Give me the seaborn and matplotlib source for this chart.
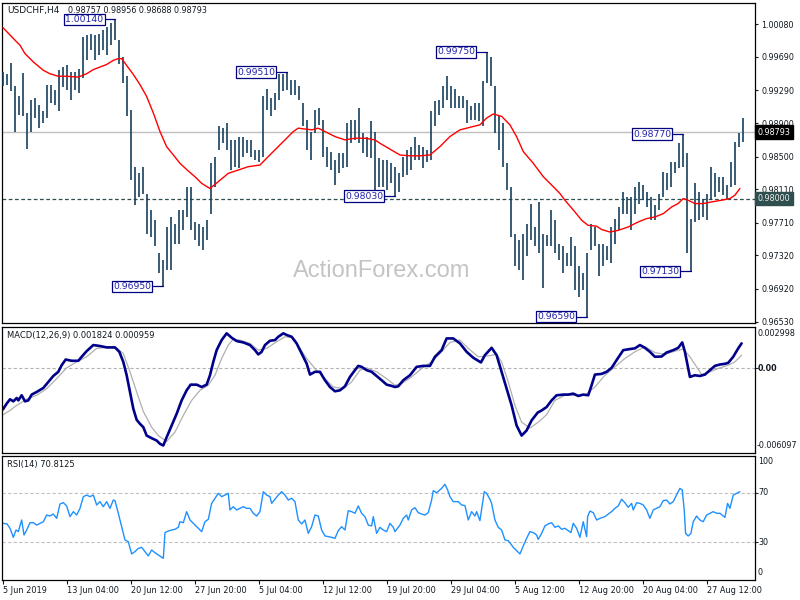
import matplotlib
matplotlib.use("Agg")
import matplotlib.pyplot as plt
import matplotlib.transforms as mtransforms
import numpy as np
import seaborn as sns

sns.set_theme(style="white")
plt.rcParams["font.family"] = ["DejaVu Sans"]

# ---- price bars (one bar drawn per 2 H4 bars) ----
bar_high = [
    0.9951, 0.9949, 0.9962, 0.9934, 0.9922, 0.9950, 0.9902, 0.9918, 0.9920, 0.9912,
    0.9904, 0.9936, 0.9936, 0.9930, 0.9953, 0.9957, 0.9959, 0.9951, 0.9951, 0.9955,
    0.9993, 0.9995, 0.9997, 0.9995, 0.9997, 1.0001, 1.0005, 1.0009, 1.0014, 0.9989,
    0.9969, 0.9946, 0.9906, 0.9838, 0.9830, 0.9838, 0.9806, 0.9786, 0.9774, 0.9735,
    0.9727, 0.9766, 0.9778, 0.9770, 0.9786, 0.9786, 0.9814, 0.9814, 0.9772, 0.9770,
    0.9766, 0.9774, 0.9842, 0.9850, 0.9886, 0.9884, 0.9890, 0.9870, 0.9870, 0.9874,
    0.9874, 0.9870, 0.9870, 0.9858, 0.9858, 0.9922, 0.9931, 0.9920, 0.9926, 0.9949,
    0.9949, 0.9951, 0.9942, 0.9942, 0.9934, 0.9914, 0.9894, 0.9880, 0.9906, 0.9908,
    0.9894, 0.9862, 0.9856, 0.9846, 0.9854, 0.9854, 0.9890, 0.9894, 0.9894, 0.9908,
    0.9878, 0.9874, 0.9892, 0.9880, 0.9848, 0.9846, 0.9846, 0.9842, 0.9838, 0.9830,
    0.9850, 0.9858, 0.9862, 0.9874, 0.9864, 0.9862, 0.9858, 0.9904, 0.9916, 0.9918,
    0.9934, 0.9946, 0.9934, 0.9931, 0.9922, 0.9922, 0.9918, 0.9910, 0.9914, 0.9914,
    0.9940, 0.9975, 0.9969, 0.9934, 0.9898, 0.9890, 0.9842, 0.9814, 0.9758, 0.9750,
    0.9758, 0.9770, 0.9794, 0.9766, 0.9796, 0.9758, 0.9756, 0.9786, 0.9774, 0.9746,
    0.9743, 0.9735, 0.9754, 0.9743, 0.9719, 0.9711, 0.9735, 0.9770, 0.9766, 0.9746,
    0.9746, 0.9743, 0.9766, 0.9776, 0.9790, 0.9808, 0.9802, 0.9802, 0.9814, 0.9820,
    0.9816, 0.9808, 0.9802, 0.9792, 0.9806, 0.9832, 0.9830, 0.9844, 0.9844, 0.9866,
    0.9877, 0.9854, 0.9776, 0.9818, 0.9808, 0.9800, 0.9806, 0.9838, 0.9830, 0.9826,
    0.9826, 0.9816, 0.9844, 0.9868, 0.9878, 0.9896,
]
bar_low = [
    0.9934, 0.9936, 0.9928, 0.9879, 0.9900, 0.9898, 0.9859, 0.9880, 0.9896, 0.9884,
    0.9890, 0.9896, 0.9914, 0.9912, 0.9904, 0.9933, 0.9930, 0.9918, 0.9930, 0.9926,
    0.9944, 0.9965, 0.9977, 0.9965, 0.9971, 0.9977, 0.9971, 0.9983, 0.9989, 0.9961,
    0.9938, 0.9898, 0.9822, 0.9792, 0.9802, 0.9806, 0.9758, 0.9754, 0.9743, 0.9711,
    0.9695, 0.9715, 0.9715, 0.9746, 0.9746, 0.9762, 0.9778, 0.9762, 0.9750, 0.9743,
    0.9739, 0.9750, 0.9782, 0.9814, 0.9858, 0.9866, 0.9858, 0.9834, 0.9838, 0.9836,
    0.9850, 0.9854, 0.9850, 0.9846, 0.9844, 0.9850, 0.9906, 0.9898, 0.9906, 0.9918,
    0.9928, 0.9930, 0.9924, 0.9924, 0.9918, 0.9886, 0.9858, 0.9846, 0.9878, 0.9888,
    0.9850, 0.9838, 0.9834, 0.9816, 0.9830, 0.9836, 0.9838, 0.9866, 0.9870, 0.9866,
    0.9854, 0.9850, 0.9848, 0.9810, 0.9814, 0.9814, 0.9810, 0.9818, 0.9803, 0.9808,
    0.9826, 0.9828, 0.9834, 0.9846, 0.9846, 0.9836, 0.9844, 0.9846, 0.9886, 0.9900,
    0.9908, 0.9918, 0.9908, 0.9908, 0.9908, 0.9908, 0.9890, 0.9894, 0.9894, 0.9892,
    0.9886, 0.9938, 0.9934, 0.9878, 0.9858, 0.9838, 0.9810, 0.9754, 0.9719, 0.9715,
    0.9703, 0.9731, 0.9750, 0.9743, 0.9735, 0.9693, 0.9743, 0.9743, 0.9735, 0.9727,
    0.9711, 0.9719, 0.9719, 0.9691, 0.9683, 0.9691, 0.9659, 0.9739, 0.9743, 0.9707,
    0.9719, 0.9727, 0.9723, 0.9746, 0.9762, 0.9782, 0.9782, 0.9762, 0.9782, 0.9794,
    0.9798, 0.9790, 0.9774, 0.9774, 0.9786, 0.9802, 0.9810, 0.9814, 0.9830, 0.9836,
    0.9838, 0.9735, 0.9713, 0.9772, 0.9774, 0.9778, 0.9774, 0.9798, 0.9802, 0.9808,
    0.9804, 0.9800, 0.9814, 0.9816, 0.9862, 0.9868,
]

# moving average (red)
ma_x = [0, 2.6, 4.25, 5.5, 7.6, 10.1, 11.75, 13.8, 15.9, 18.8, 20.9, 22.6, 24.25,
        25.9, 27.6, 28.8, 29.7, 30.9, 32.6, 34.25, 35.9, 37.6, 39.25, 40.9, 42.6,
        44.25, 46.3, 48, 49.7, 51.75, 53.8, 56.3, 58.8, 61.3, 64.25, 66.3, 68.4,
        70.5, 72.6, 73.8, 75.5, 77.2, 78.8, 80.5, 83, 85.5, 88, 90.5, 93, 94.25,
        96.75, 99.25, 101.75, 104.25, 106.75, 109.25, 111.75, 114.25, 116.75,
        119.25, 120.9, 122.6, 124.7, 126.75, 128.4, 130.1, 132.6, 135.1, 137.2,
        139.25, 140.5, 143, 144.7, 146.3, 148.4, 149.7, 151.75, 153.8, 156.3,
        158.8, 160.9, 163, 165.1, 167.2, 168.8, 170.1, 171.3, 173, 175.1, 177.2,
        179.7, 181.75, 183, 184.25]
ma_y = [1.0004, 0.9991, 0.9983, 0.9973, 0.9963, 0.9953, 0.9949, 0.9946, 0.9946,
        0.9945, 0.9949, 0.9954, 0.9957, 0.9960, 0.9965, 0.9967, 0.9967, 0.9959,
        0.9948, 0.9936, 0.9922, 0.9902, 0.9880, 0.9862, 0.9852, 0.9842, 0.9833,
        0.9826, 0.9818, 0.9812, 0.9820, 0.9830, 0.9834, 0.9838, 0.9840, 0.9850,
        0.9860, 0.9870, 0.9880, 0.9884, 0.9883, 0.9882, 0.9884, 0.9880, 0.9874,
        0.9870, 0.9872, 0.9872, 0.9870, 0.9866, 0.9859, 0.9852, 0.9851, 0.9851,
        0.9852, 0.9862, 0.9874, 0.9882, 0.9885, 0.9888, 0.9896, 0.9901, 0.9898,
        0.9888, 0.9874, 0.9856, 0.9842, 0.9826, 0.9816, 0.9806, 0.9798, 0.9784,
        0.9774, 0.9768, 0.9767, 0.9763, 0.9760, 0.9762, 0.9766, 0.9772, 0.9776,
        0.9778, 0.9782, 0.9790, 0.9794, 0.9800, 0.9798, 0.9794, 0.9794, 0.9796,
        0.9798, 0.9800, 0.9804, 0.9812]

# MACD main line and signal line
macd_x = [0, 0.9, 1.75, 2.58, 3.42, 3.83, 4.67, 5.5, 6.33, 7.17,
          8.42, 10.08, 11.33, 12.58, 13.83, 14.67, 15.67, 17.17, 18.83, 19.67,
          20.92, 22.58, 24.25, 25.92, 28.0, 29.08, 30.08, 30.92, 31.75, 32.58,
          33.42, 34.25, 35.08, 35.92, 37.17, 38.42, 39.25, 40.08, 40.92, 42.17,
          43.42, 44.67, 45.92, 46.92, 48.42, 49.67, 50.92, 51.75, 52.58, 53.42,
          54.67, 55.92, 57.17, 58.42, 60.08, 61.75, 63.0, 63.83, 64.67, 65.5,
          66.75, 68.0, 68.83, 70.08, 70.92, 72.17, 73.42, 74.67, 75.92, 76.75,
          78.0, 79.25, 80.5, 81.75, 83.0, 84.25, 85.5, 86.75, 88.0, 88.83,
          89.67, 90.92, 92.17, 93.42, 94.67, 95.92, 97.17, 98.0, 98.83, 100.08,
          101.75, 103.42, 105.08, 106.75, 108.0, 109.67, 110.92, 112.58, 114.25, 115.92,
          117.58, 119.5, 120.5, 122.17, 123.42, 124.67, 125.92, 127.17, 128.42, 129.67,
          130.92, 132.17, 133.67, 134.67, 135.92, 137.17, 138.42, 140.08, 141.33, 142.58,
          143.83, 145.08, 146.33, 147.17, 148.0, 149.67, 150.92, 152.17, 153.42, 155.08,
          156.75, 158.0, 159.25, 160.5, 161.75, 163.0, 164.67, 165.92, 167.58, 168.83,
          169.83, 170.5, 171.75, 173.0, 174.25, 175.5, 176.75, 178.0, 179.25, 180.5,
          181.33, 182.58, 183.83, 184.67]
macd_y = [-0.00297, -0.00256, -0.00224, -0.00239, -0.00215, -0.00232, -0.00195, -0.00239, -0.00232, -0.00190,
          -0.00171, -0.00142, -0.00098, -0.00055, -0.00025, 0.00023, 0.00064, 0.00055, 0.00055, 0.00084,
          0.00125, 0.00169, 0.00162, 0.00152, 0.00152, 0.00120, 0.00047, -0.00050, -0.00171, -0.00292,
          -0.00373, -0.00402, -0.00426, -0.00487, -0.00506, -0.00523, -0.00547, -0.00559, -0.00499, -0.00414,
          -0.00329, -0.00232, -0.00159, -0.00118, -0.00118, -0.00135, -0.00118, -0.00050, 0.00047, 0.00132,
          0.00205, 0.00254, 0.00222, 0.00198, 0.00188, 0.00169, 0.00132, 0.00101, 0.00120, 0.00169,
          0.00200, 0.00205, 0.00229, 0.00254, 0.00242, 0.00229, 0.00181, 0.00108, 0.00035, -0.00045,
          -0.00025, -0.00025, -0.00086, -0.00135, -0.00166, -0.00159, -0.00130, -0.00062, -0.00013, 0.00018,
          0.00011, -0.00013, -0.00025, -0.00055, -0.00086, -0.00118, -0.00127, -0.00135, -0.00130, -0.00086,
          -0.00050, 0.00011, 0.00018, 0.00018, 0.00084, 0.00132, 0.00217, 0.00217, 0.00181, 0.00120,
          0.00077, 0.00043, 0.00096, 0.00149, 0.00096, -0.00025, -0.00147, -0.00268, -0.00414, -0.00487,
          -0.00450, -0.00377, -0.00321, -0.00305, -0.00280, -0.00232, -0.00195, -0.00190, -0.00190, -0.00183,
          -0.00200, -0.00190, -0.00195, -0.00122, -0.00045, -0.00040, -0.00025, 0.00004, 0.00060, 0.00132,
          0.00140, 0.00145, 0.00169, 0.00149, 0.00120, 0.00084, 0.00086, 0.00115, 0.00132, 0.00149,
          0.00188, 0.00120, -0.00062, -0.00050, -0.00055, -0.00045, -0.00013, 0.00018, 0.00028, 0.00033,
          0.00040, 0.00084, 0.00145, 0.00181]
signal_x = [0, 1.75, 3.42, 5.92, 8.42, 10.92, 13.42, 15.92, 18.42, 20.92,
            23.42, 25.92, 28.42, 30.08, 31.75, 33.42, 35.08, 37.17, 38.83, 40.92,
            43.0, 45.08, 47.17, 49.25, 51.33, 53.0, 54.67, 56.33, 57.58, 59.25,
            61.75, 63.83, 65.92, 68.42, 70.5, 72.58, 74.25, 75.92, 78.0, 80.08,
            82.58, 85.08, 87.17, 89.25, 90.92, 93.42, 95.92, 98.0, 99.67, 102.17,
            104.67, 107.17, 109.67, 111.75, 114.25, 116.33, 118.83, 121.33, 123.42, 124.67,
            126.33, 128.0, 129.67, 131.75, 133.83, 135.92, 138.0, 140.5, 143.0, 145.5,
            148.0, 150.5, 153.0, 155.5, 158.0, 160.5, 163.0, 165.5, 168.0, 170.08,
            171.75, 173.42, 174.67, 176.75, 178.83, 181.33, 183.0, 184.67]
signal_y = [-0.00336, -0.00305, -0.00268, -0.00224, -0.00195, -0.00147, -0.00074, 0.00004, 0.00047, 0.00084,
            0.00145, 0.00152, 0.00145, 0.00108, -0.00025, -0.00171, -0.00312, -0.00426, -0.00487, -0.00530,
            -0.00462, -0.00341, -0.00232, -0.00159, -0.00122, -0.00050, 0.00072, 0.00169, 0.00212, 0.00205,
            0.00181, 0.00132, 0.00145, 0.00193, 0.00229, 0.00222, 0.00145, 0.00072, -0.00001, -0.00062,
            -0.00135, -0.00147, -0.00098, -0.00013, 0.00004, -0.00025, -0.00074, -0.00122, -0.00110, -0.00062,
            -0.00001, 0.00047, 0.00120, 0.00188, 0.00205, 0.00145, 0.00084, 0.00091, 0.00101, 0.00047,
            -0.00098, -0.00268, -0.00390, -0.00433, -0.00390, -0.00336, -0.00232, -0.00195, -0.00195, -0.00195,
            -0.00135, -0.00050, 0.00011, 0.00072, 0.00120, 0.00157, 0.00115, 0.00101, 0.00125, 0.00140,
            0.00084, 0.00011, -0.00045, -0.00025, -0.00001, 0.00023, 0.00047, 0.00096]

# RSI(14)
rsi_x = [0.0, 1.0, 1.75, 2.58, 3.25, 3.83, 4.67, 5.25, 5.92, 6.75,
         7.58, 8.42, 9.25, 10.08, 10.92, 11.75, 12.58, 13.42, 14.25, 15.08,
         15.92, 16.75, 17.58, 18.42, 19.25, 20.08, 20.92, 21.75, 22.58, 23.42,
         24.25, 25.08, 25.92, 26.75, 27.58, 28.0, 28.83, 29.67, 30.5, 31.33,
         32.17, 33.0, 33.83, 34.67, 35.5, 36.33, 37.17, 38.0, 38.83, 40.08,
         40.5, 41.33, 42.17, 43.0, 43.83, 44.25, 45.08, 45.92, 46.75, 47.58,
         48.42, 49.67, 50.5, 51.33, 52.17, 53.0, 53.83, 54.67, 55.5, 56.33,
         56.75, 57.58, 58.42, 59.25, 60.08, 60.92, 61.75, 62.58, 63.42, 64.25,
         65.08, 65.92, 66.75, 67.17, 68.0, 68.83, 69.67, 70.5, 71.33, 72.17,
         73.0, 73.83, 74.67, 75.5, 76.33, 77.17, 78.0, 78.83, 79.67, 80.5,
         81.33, 82.17, 83.0, 83.83, 84.67, 85.5, 86.33, 87.17, 88.0, 88.83,
         89.67, 90.5, 91.33, 92.17, 92.58, 93.42, 94.25, 95.08, 95.92, 96.75,
         97.58,
         98.0, 99.25, 100.08, 100.92, 101.33, 102.17, 103.0, 103.83, 104.67, 105.5,
         106.33, 107.17, 107.58, 108.42, 109.67, 110.5, 111.17, 111.75, 112.58, 113.83,
         114.67, 115.5, 116.33, 117.17, 118.0, 118.42, 119.25, 119.83, 120.33, 120.92,
         121.75, 122.17, 123.0, 123.83, 124.67, 125.5, 126.33, 127.17, 127.58, 128.42,
         129.25, 130.08, 130.92, 131.75, 132.58, 133.42, 133.83, 134.67, 135.5, 136.33,
         137.17, 138.0, 138.83, 139.67, 140.5, 141.33, 142.0, 142.58, 143.42, 144.25,
         145.08, 145.92, 146.17, 146.75, 147.58, 148.42, 149.25, 150.5, 151.33, 152.17,
         153.0, 153.83, 154.67, 155.5, 156.33, 157.17, 157.58, 158.42, 159.25, 160.08,
         160.92, 161.75, 162.58, 163.42, 164.25, 165.08, 165.92, 166.75, 167.58, 168.42,
         169.25, 169.83, 170.33, 170.67, 171.33, 172.0, 172.58, 173.42, 174.25, 175.08,
         175.92, 176.75, 177.58, 178.42, 179.25, 180.5, 181.17, 181.75, 182.58, 183.42,
         184.25]
rsi_y = [45.3, 44.8, 41.3, 34.0, 39.9, 38.6, 48.0, 35.9, 39.9, 45.8,
         45.8, 43.9, 45.3, 46.6, 52.0, 51.2, 52.8, 49.3, 60.9, 62.0,
         59.3, 50.7, 54.7, 52.0, 57.4, 66.8, 68.1, 66.8, 68.1, 60.1,
         62.8, 58.7, 62.8, 57.4, 64.1, 63.6, 53.4, 42.6, 31.9, 30.5,
         20.6, 22.5, 25.1, 25.9, 22.5, 19.0, 23.8, 21.6, 19.8, 17.1,
         37.8, 39.1, 39.9, 40.5, 42.1, 46.6, 45.8, 54.7, 48.0, 45.3,
         42.6, 38.6, 46.6, 48.5, 61.4, 65.5, 69.5, 66.8, 68.1, 69.5,
         56.1, 58.7, 56.1, 57.4, 58.7, 57.4, 57.4, 53.4, 51.2, 54.7,
         70.8, 68.1, 66.8, 61.4, 64.7, 68.1, 70.8, 68.1, 64.1, 65.5,
         62.8, 48.0, 44.8, 48.0, 37.2, 42.6, 52.0, 51.2, 39.9, 35.1,
         34.6, 34.0, 33.2, 39.4, 42.6, 39.9, 55.5, 54.7, 53.4, 59.3,
         53.4, 50.7, 43.9, 43.2, 50.7, 37.2, 42.1, 39.9, 38.6, 45.3,
         42.1,
         38.6, 43.9, 49.3, 52.0, 48.0, 56.1, 57.9, 53.9, 52.8, 52.0,
         53.9, 64.1, 71.6, 70.0, 73.5, 76.8, 72.2, 66.8, 62.8, 62.8,
         60.1, 59.6, 48.0, 54.7, 51.2, 54.7, 47.5, 60.1, 70.8, 69.5,
         64.7, 61.4, 48.0, 42.1, 39.9, 31.9, 31.3, 27.8, 25.9, 23.3,
         20.6, 27.0, 33.2, 38.6, 37.8, 35.9, 32.4, 37.2, 43.2, 44.8,
         45.8, 42.1, 43.2, 40.5, 41.3, 39.4, 37.8, 45.3, 41.3, 34.0,
         46.6, 34.6, 50.7, 55.2, 53.9, 48.0, 49.3, 50.7, 52.8, 54.7,
         57.4, 59.3, 64.7, 61.9, 58.2, 61.4, 56.1, 61.9, 61.4, 60.1,
         56.1, 49.3, 56.1, 57.4, 58.7, 63.6, 64.1, 60.9, 62.8, 68.1,
         73.5, 72.2, 56.1, 37.2, 35.1, 37.2, 46.6, 51.2, 48.0, 46.6,
         52.0, 53.4, 54.7, 53.4, 53.4, 50.1, 61.4, 57.4, 68.1, 69.5,
         70.8]

assert len(bar_high) == len(bar_low)
assert len(ma_x) == len(ma_y)
assert len(macd_x) == len(macd_y)
assert len(signal_x) == len(signal_y)
assert len(rsi_x) == len(rsi_y)

# swing labels and the bar they point at
swing_labels = ["1.00140", "0.96950", "0.99510", "0.98030", "0.99750", "0.96590", "0.98770", "0.97130"]
swing_bars = [28, 40, 71, 98, 121, 146, 170, 172]

price_ticks = [1.00080, 0.99690, 0.99290, 0.98900, 0.98500, 0.98110, 0.97710, 0.97320, 0.96920, 0.96530]
last_close = 0.98793
support = 0.98000
date_labels = ["5 Jun 2019", "13 Jun 04:00", "20 Jun 12:00", "27 Jun 20:00", "5 Jul 04:00",
               "12 Jul 12:00", "19 Jul 20:00", "29 Jul 04:00", "5 Aug 12:00", "12 Aug 20:00",
               "20 Aug 04:00", "27 Aug 12:00"]
date_bars = list(range(0, 177, 16))

W, H = 800, 600
BAR = "#16405e"
INK = "#101820"
NAVY = "#000080"


def rect(x0, y0, x1, y1):
    # pixel box -> figure fraction
    return [x0 / W, 1 - y1 / H, (x1 - x0) / W, (y1 - y0) / H]


def fpos(x, y):
    return x / W, 1 - y / H


fig = plt.figure(figsize=(8, 6), dpi=100, facecolor="white")
ax_p = fig.add_axes(rect(2, 2.7, 754.5, 323))
ax_m = fig.add_axes(rect(2, 327, 754.5, 452.5))
ax_r = fig.add_axes(rect(2, 455.5, 754.5, 579.5))

for ax in (ax_p, ax_m, ax_r):
    ax.set_facecolor("white")
    for s in ax.spines.values():
        s.set_color("black")
        s.set_linewidth(0.9)
    ax.set_xlim(-0.25, 187.9)
    ax.yaxis.tick_right()

# ---- price panel ----
bars = np.arange(len(bar_high))
ax_p.text(382 / W, 1 - 271 / H, "ActionForex.com", transform=fig.transFigure,
          ha="center", va="center", fontsize=17, color="#c4c4c4",
          family="Liberation Sans", zorder=0)
ax_p.axhline(last_close, color="#c0c0c0", lw=1.0, zorder=1)
ax_p.axhline(support, color="#2f4f4f", lw=0.9, ls=(0, (3, 2)), zorder=1)
ax_p.vlines(bars, bar_low, bar_high, color=BAR, lw=1.2, zorder=3)
sns.lineplot(x=ma_x, y=ma_y, ax=ax_p, color="red", lw=1.0, estimator=None,
             sort=False, legend=False, zorder=4)

for lab, b in zip(swing_labels, swing_bars):
    level = float(lab)
    ax_p.plot([b - 2.5, b], [level, level], color=NAVY, lw=0.9, zorder=4)
    ax_p.text(b - 2.9, level, lab, ha="right", va="center", fontsize=6.7,
              color="#2323a8", zorder=5,
              bbox=dict(boxstyle="square,pad=0.12", fc="white", ec=NAVY, lw=0.9))

ax_p.set_ylim(0.96514, 1.00338)
ax_p.set_yticks(price_ticks)
ax_p.set_yticklabels([f"{v:.5f}" for v in price_ticks])
ax_p.tick_params(axis="y", right=True, left=False, direction="out", length=2.5,
                 width=0.8, pad=2.5, labelsize=5.8, colors=INK)
ax_p.set_xticks([])
ax_p.set_xlabel("")
ax_p.set_ylabel("")

tr = mtransforms.blended_transform_factory(ax_p.transAxes, ax_p.transData)
ax_p.text(1.0045, last_close, f"{last_close:.5f}", transform=tr, ha="left", va="center",
          fontsize=5.8, color="white", clip_on=False, zorder=6,
          bbox=dict(boxstyle="square,pad=0.3", fc="black", ec="black"))
ax_p.text(1.0045, support, f"{support:.5f}", transform=tr, ha="left", va="center",
          fontsize=5.8, color="#eeeeee", clip_on=False, zorder=6,
          bbox=dict(boxstyle="square,pad=0.3", fc="#2f4f4f", ec="#2f4f4f"))

fig.text(*fpos(7, 10.7), "USDCHF,H4", fontsize=6.5, va="center", color=INK)
fig.text(*fpos(68, 10.7), "0.98757 0.98956 0.98688 0.98793",
         fontsize=5.8, va="center", color=INK)

# ---- MACD panel ----
ax_m.axhline(0, color="#b4b4b4", lw=0.8, ls=(0, (3, 2)))
sns.lineplot(x=signal_x, y=signal_y, ax=ax_m, color="#b0b0b0", lw=0.9,
             estimator=None, sort=False, legend=False)
sns.lineplot(x=macd_x, y=macd_y, ax=ax_m, color="#00008b", lw=1.9,
             estimator=None, sort=False, legend=False)
ax_m.set_ylim(-0.006097, 0.002998)
ax_m.set_yticks([0])
ax_m.set_yticklabels([""])
ax_m.tick_params(axis="y", right=True, left=False, direction="out", length=2.5, width=0.8)
ax_m.set_xticks([])
ax_m.set_xlabel("")
ax_m.set_ylabel("")
fig.text(*fpos(7, 335.7), "MACD(12,26,9) 0.001824 0.000959", fontsize=6.0, va="center", color=INK)
fig.text(*fpos(758, 334), "0.002998", fontsize=5.8, va="center", color=INK)
fig.text(*fpos(758, 368.3), "0.00", fontsize=5.8, va="center", color=INK, weight="bold")
fig.text(*fpos(757, 445), "-0.006097", fontsize=5.8, va="center", color=INK)

# ---- RSI panel ----
for lvl in (70, 30):
    ax_r.axhline(lvl, color="#c0c0c0", lw=0.8, ls=(0, (3, 2)))
sns.lineplot(x=rsi_x, y=rsi_y, ax=ax_r, color="#1e90ff", lw=1.0,
             estimator=None, sort=False, legend=False)
ax_r.set_ylim(0, 100)
ax_r.set_yticks([30, 70])
ax_r.set_yticklabels(["", ""])
ax_r.tick_params(axis="y", right=True, left=False, direction="out", length=2.5, width=0.8)
ax_r.set_xticks(date_bars)
ax_r.set_xticklabels(date_labels)
for t in ax_r.get_xticklabels():
    t.set_ha("left")
ax_r.tick_params(axis="x", bottom=True, direction="out", length=3, width=0.8,
                 pad=1.5, labelsize=5.9, colors=INK)
ax_r.set_xlabel("")
ax_r.set_ylabel("")
fig.text(*fpos(7, 464), "RSI(14) 70.8125", fontsize=6.0, va="center", color=INK)
for txt, yy in (("100", 461.7), ("70", 492.7), ("30", 542.3), ("0", 572.7)):
    fig.text(*fpos(758, yy), txt, fontsize=5.8, va="center", color=INK)

fig.savefig("out.png", dpi=100, facecolor="white")
